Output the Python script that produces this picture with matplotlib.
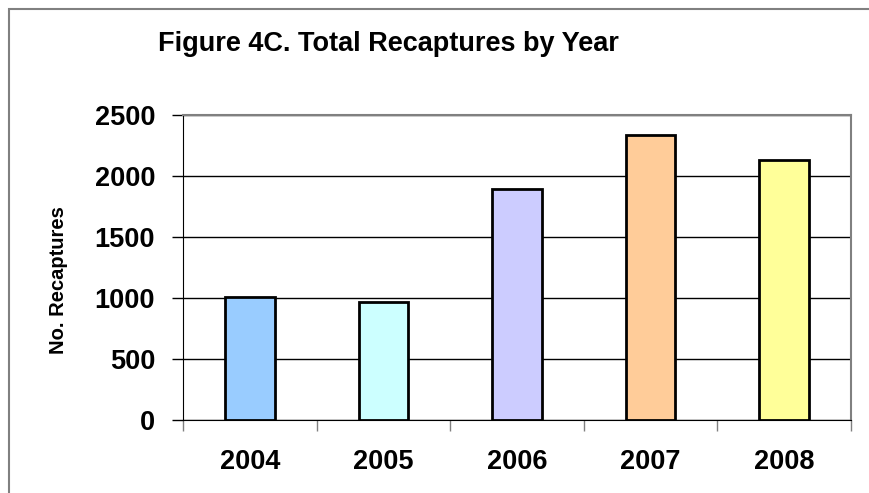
import matplotlib.pyplot as plt
from matplotlib.patches import Rectangle

# data
years = ["2004", "2005", "2006", "2007", "2008"]
recaptures = [1010, 970, 1890, 2335, 2135]
bar_colors = ["#99CCFF", "#CCFFFF", "#CCCCFF", "#FFCC99", "#FFFF99"]
y_ticks = [0, 500, 1000, 1500, 2000, 2500]

plt.rcParams['font.family'] = ['Liberation Sans', 'DejaVu Sans']
plt.rcParams['font.weight'] = 'bold'

fig = plt.figure(figsize=(8.7, 4.93), dpi=100)
fig.patch.set_facecolor('white')

# outer chart frame (runs off the right and bottom edges)
fig.patches.append(Rectangle((9 / 870, -0.2), 1.2, 1 - 9 / 493 + 0.2,
                             transform=fig.transFigure, fill=False,
                             edgecolor='#808080', linewidth=1.5))

ax = fig.add_axes([183 / 870, 1 - 420 / 493, (851 - 183) / 870, (420 - 115) / 493])

x = range(len(years))
ax.bar(x, recaptures, width=0.37, color=bar_colors, edgecolor='black',
       linewidth=2, zorder=3)

ax.set_xlim(-0.5, len(years) - 0.5)
ax.set_ylim(0, 2500)
ax.set_yticks(y_ticks)
ax.set_yticklabels([str(v) for v in y_ticks], fontsize=19.5, fontweight='bold')
ax.yaxis.grid(True, color='black', linewidth=1, zorder=0)

# category labels at centers, ticks at category boundaries
ax.set_xticks(list(x))
ax.set_xticklabels(years, fontsize=19.5, fontweight='bold')
ax.set_xticks([i - 0.5 for i in range(len(years) + 1)], minor=True)
ax.tick_params(axis='x', which='major', length=0, pad=21)
ax.tick_params(axis='x', which='minor', length=8, width=1, color='#808080', direction='out')
ax.tick_params(axis='y', length=8, width=1, direction='out', pad=12)

for side in ['top', 'right']:
    ax.spines[side].set_color('#808080')
    ax.spines[side].set_linewidth(1.5)
ax.spines['left'].set_color('black')
ax.spines['bottom'].set_color('black')

ax.set_ylabel("No. Recaptures", fontsize=14.5, fontweight='bold')
ax.yaxis.set_label_coords(-0.172, 0.46)

fig.text(158 / 870, 1 - 44 / 493, "Figure 4C. Total Recaptures by Year",
         fontsize=19.5, fontweight='bold', ha='left', va='center')

fig.savefig("out.png", dpi=100)
